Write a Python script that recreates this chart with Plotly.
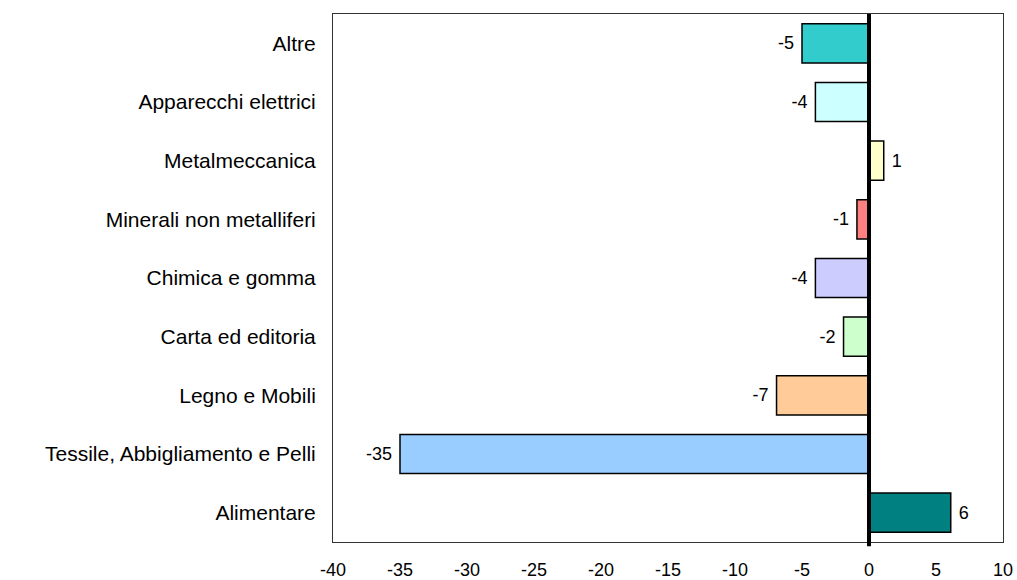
import plotly.graph_objects as go

# Sector names, bottom to top
categories = [
    "Alimentare",
    "Tessile, Abbigliamento e Pelli",
    "Legno e Mobili",
    "Carta ed editoria",
    "Chimica e gomma",
    "Minerali non metalliferi",
    "Metalmeccanica",
    "Apparecchi elettrici",
    "Altre",
]
values = [6.1, -35.0, -6.9, -1.9, -4.0, -0.9, 1.1, -4.0, -5.0]
bar_colors = [
    "#008080", "#99CCFF", "#FFCC99", "#CCFFCC", "#CCCCFF",
    "#FF8080", "#FFFFCC", "#CCFFFF", "#33CCCC",
]
x_ticks = [-40, -35, -30, -25, -20, -15, -10, -5, 0, 5, 10]

font_family = "Liberation Sans, Arial, sans-serif"

# A non-breaking space on the bar side keeps the value labels a little off the bar ends
pad = "\u00a0"
label_templates = [
    (pad + "%{x:.0f}") if v >= 0 else ("%{x:.0f}" + pad) for v in values
]

fig = go.Figure(
    go.Bar(
        y=categories,
        x=values,
        orientation="h",
        marker=dict(color=bar_colors, line=dict(color="#000000", width=1.5)),
        texttemplate=label_templates,
        textposition="outside",
        textfont=dict(family=font_family, size=18, color="#000000"),
        cliponaxis=False,
    )
)

# Heavy zero line drawn over the bars
fig.add_shape(
    type="line", xref="x", yref="paper",
    x0=0, x1=0, y0=-0.008, y1=1.0,
    line=dict(color="#000000", width=4),
    layer="above",
)

fig.update_layout(
    width=1017,
    height=580,
    margin=dict(l=333, r=14, t=14, b=38, autoexpand=False),
    paper_bgcolor="#FFFFFF",
    plot_bgcolor="#FFFFFF",
    bargap=0.333,
    showlegend=False,
    font=dict(family=font_family, size=21, color="#000000"),
)
fig.update_xaxes(
    range=[-40, 10],
    tickvals=x_ticks,
    ticktext=[str(t) for t in x_ticks],
    tickfont=dict(size=18),
    showgrid=False,
    zeroline=False,
    showline=True,
    linecolor="#333333",
    linewidth=1,
    mirror=True,
    ticks="",
    ticklabelstandoff=11,
    automargin=False,
)
fig.update_yaxes(
    categoryorder="array",
    categoryarray=categories,
    tickfont=dict(size=21),
    showgrid=False,
    zeroline=False,
    showline=True,
    linecolor="#333333",
    linewidth=1,
    mirror=True,
    ticks="",
    ticklabelstandoff=12,
    automargin=False,
)

fig.write_html("out.html")
